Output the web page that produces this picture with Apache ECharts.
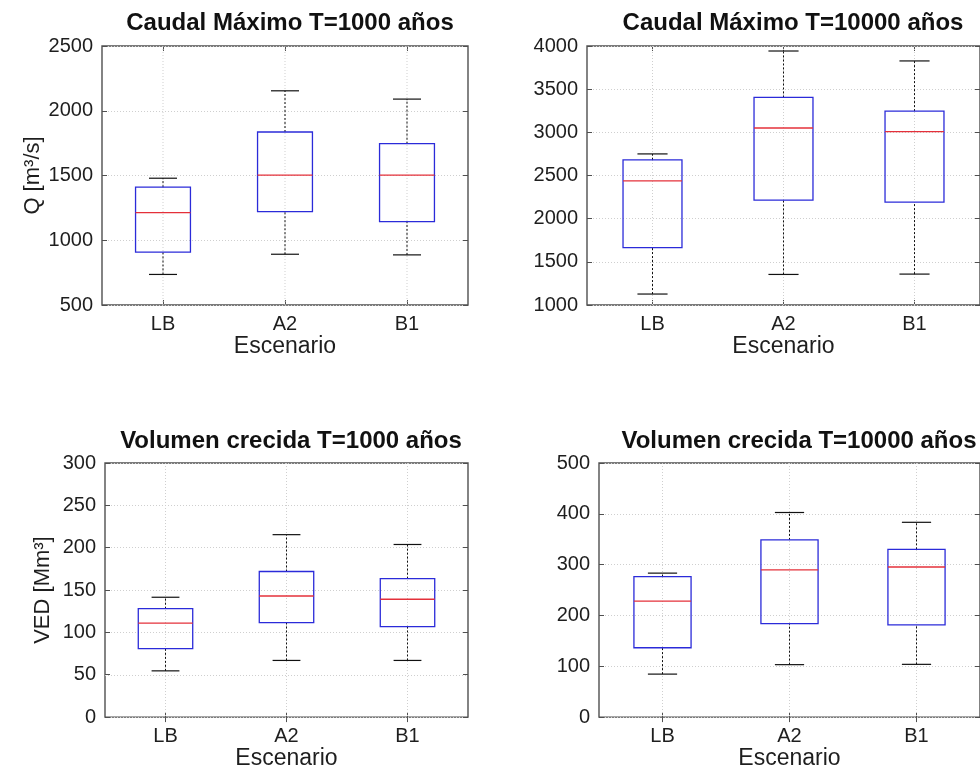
<!DOCTYPE html>
<html>
<head>
<meta charset="utf-8">
<script src="https://cdn.jsdelivr.net/npm/echarts@6/dist/echarts.min.js"></script>
<style>
  html, body { margin: 0; padding: 0; background: #fff; }
  #chart { width: 980px; height: 771px; }
</style>
</head>
<body>
<div id="chart"></div>
<script>
// Escenarios climáticos
const escenarios = ['LB', 'A2', 'B1'];

// Estadísticos por escenario: [mínimo, Q1, mediana, Q3, máximo]
const caudalT1000 = [
  [736, 908, 1213, 1410, 1479],
  [892, 1221, 1503, 1836, 2154],
  [887, 1144, 1503, 1746, 2090]
];
const caudalT10000 = [
  [1127, 1665, 2438, 2681, 2750],
  [1354, 2215, 3050, 3404, 3942],
  [1358, 2192, 3008, 3246, 3827]
];
const volumenT1000 = [
  [54.6, 80.8, 111, 128, 141.5],
  [66.9, 111.5, 143, 171.9, 215.4],
  [66.9, 106.9, 139.2, 163.5, 203.8]
];
const volumenT10000 = [
  [84.6, 136.5, 228.2, 276.3, 283.3],
  [103.2, 184, 289.7, 348.7, 402.6],
  [103.8, 181.4, 295.5, 330.1, 383.3]
];

// Títulos, nombres de eje y escalas verticales de cada panel
const titulos = [
  'Caudal Máximo T=1000 años',
  'Caudal Máximo T=10000 años',
  'Volumen crecida T=1000 años',
  'Volumen crecida T=10000 años'
];
const nombresEjeY = ['Q [m³/s]', '', 'VED [Mm³]', ''];
const escalasY = [
  { min: 500, max: 2500, interval: 500 },
  { min: 1000, max: 4000, interval: 500 },
  { min: 0, max: 300, interval: 50 },
  { min: 0, max: 500, interval: 100 }
];
const datosPaneles = [caudalT1000, caudalT10000, volumenT1000, volumenT10000];

const FONT = '"Liberation Sans", Arial, Helvetica, sans-serif';
const TEXT = '#1e1e1e';
const FRAME = '#505050';
const AZUL = '#2b2bd9';
const ROJO = '#e4303a';

const grids = [
  { left: 102, top: 46, width: 366, height: 259 },
  { left: 587, top: 46, width: 402, height: 259 },
  { left: 105, top: 463, width: 363, height: 261 },
  { left: 599, top: 463, width: 389, height: 261 }
];

const titlePos = [
  { x: 285, y: 6 },
  { x: 788, y: 6 },
  { x: 286, y: 424 },
  { x: 794, y: 424 }
];

function renderBox(params, api) {
  const i = api.value(0);
  const pMin = api.coord([i, api.value(1)]);
  const pQ1 = api.coord([i, api.value(2)]);
  const pMed = api.coord([i, api.value(3)]);
  const pQ3 = api.coord([i, api.value(4)]);
  const pMax = api.coord([i, api.value(5)]);
  const band = api.size([1, 0])[0];
  const bw = band * 0.45;
  const cw = band * 0.23;
  const x = pMin[0];
  const cs = params.coordSys;
  const dashed = { stroke: '#111', lineWidth: 1, lineDash: [2, 2] };
  const solid = { stroke: '#111', lineWidth: 1.2 };
  return {
    type: 'group',
    children: [
      // vertical grid line at the category
      { type: 'line', shape: { x1: x, y1: cs.y, x2: x, y2: cs.y + cs.height },
        style: { stroke: '#cfcfcf', lineWidth: 1, lineDash: [1, 2] } },
      // whiskers
      { type: 'line', shape: { x1: x, y1: pQ3[1], x2: x, y2: pMax[1] }, style: dashed },
      { type: 'line', shape: { x1: x, y1: pMin[1], x2: x, y2: pQ1[1] }, style: dashed },
      // caps
      { type: 'line', shape: { x1: x - cw / 2, y1: pMax[1], x2: x + cw / 2, y2: pMax[1] }, style: solid },
      { type: 'line', shape: { x1: x - cw / 2, y1: pMin[1], x2: x + cw / 2, y2: pMin[1] }, style: solid },
      // box
      { type: 'rect', shape: { x: x - bw / 2, y: pQ3[1], width: bw, height: pQ1[1] - pQ3[1] },
        style: { fill: 'none', stroke: AZUL, lineWidth: 1.3 } },
      // median
      { type: 'line', shape: { x1: x - bw / 2, y1: pMed[1], x2: x + bw / 2, y2: pMed[1] },
        style: { stroke: ROJO, lineWidth: 1.4 } }
    ]
  };
}

const option = {
  animation: false,
  backgroundColor: '#fff',
  title: titulos.map((t, k) => ({
    text: t,
    left: titlePos[k].x,
    top: titlePos[k].y,
    textAlign: 'center',
    textStyle: { fontFamily: FONT, fontSize: 24, fontWeight: 'bold', color: '#111' }
  })),
  grid: grids.map(g => Object.assign({
    show: true, borderColor: FRAME, borderWidth: 1.4, backgroundColor: '#fff'
  }, g)),
  xAxis: [],
  yAxis: [],
  series: []
};

grids.forEach((g, k) => {
  option.xAxis.push({
    type: 'category', gridIndex: k, data: escenarios, position: 'bottom',
    name: 'Escenario', nameLocation: 'middle', nameGap: 22,
    nameTextStyle: { fontFamily: FONT, fontSize: 23, color: TEXT },
    axisLine: { show: false },
    axisTick: { show: true, inside: true, alignWithLabel: true, length: 5, lineStyle: { color: FRAME } },
    axisLabel: { fontFamily: FONT, fontSize: 20, color: TEXT, margin: 9 },
    splitLine: { show: false }
  });
  option.xAxis.push({
    type: 'category', gridIndex: k, data: escenarios, position: 'top',
    axisLine: { show: false },
    axisTick: { show: true, inside: true, alignWithLabel: true, length: 5, lineStyle: { color: FRAME } },
    axisLabel: { show: false },
    splitLine: { show: false }
  });
  const s = escalasY[k];
  option.yAxis.push({
    type: 'value', gridIndex: k, position: 'left',
    min: s.min, max: s.max, interval: s.interval,
    name: nombresEjeY[k], nameLocation: 'middle', nameGap: k === 0 ? 58 : 51,
    nameTextStyle: { fontFamily: FONT, fontSize: 22, color: TEXT },
    axisLine: { show: false },
    axisTick: { show: true, inside: true, length: 5, lineStyle: { color: FRAME } },
    axisLabel: { fontFamily: FONT, fontSize: 20, color: TEXT, margin: 9, formatter: v => String(v) },
    splitLine: { show: true, lineStyle: { color: '#cfcfcf', width: 1, type: [1, 2] } }
  });
  option.yAxis.push({
    type: 'value', gridIndex: k, position: 'right',
    min: s.min, max: s.max, interval: s.interval,
    axisLine: { show: false },
    axisTick: { show: true, inside: true, length: 5, lineStyle: { color: FRAME } },
    axisLabel: { show: false },
    splitLine: { show: false }
  });
  option.series.push({
    type: 'custom',
    xAxisIndex: 2 * k,
    yAxisIndex: 2 * k,
    renderItem: renderBox,
    encode: { x: 0, y: [1, 2, 3, 4, 5] },
    data: escenarios.map((c, i) => [i].concat(datosPaneles[k][i]))
  });
});

const chart = echarts.init(document.getElementById('chart'), null, { renderer: 'canvas' });
chart.setOption(option);
</script>
</body>
</html>
